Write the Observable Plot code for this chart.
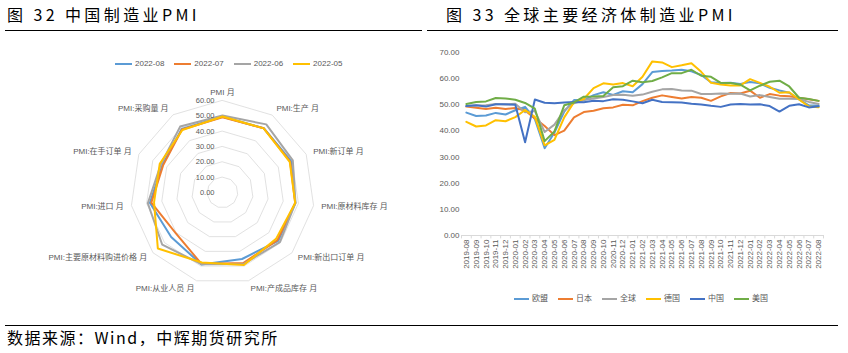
<!DOCTYPE html>
<html><head><meta charset="utf-8">
<script src="https://cdn.jsdelivr.net/npm/d3@7"></script>
<script src="https://cdn.jsdelivr.net/npm/@observablehq/plot@0.6"></script>
<style>
html,body{margin:0;padding:0;background:#fff}
body{width:848px;height:353px;position:relative;overflow:hidden;font-family:"Noto Sans CJK SC",sans-serif}
.title{position:absolute;font-size:16px;line-height:16px;letter-spacing:3.4px;color:#000;white-space:nowrap}
.hr{position:absolute;height:0;border-top:1.5px solid #000}
.leg{position:absolute;font:8px "Liberation Sans",Arial,"Noto Sans CJK SC",sans-serif;color:#595959;display:flex;align-items:center;white-space:nowrap;line-height:10px}
.leg span.it{display:flex;align-items:center}
.sw{display:inline-block;height:0;border-top:2px solid}
#radar,#lines{position:absolute;top:0}
#radar{left:0}#lines{left:424px}
.cap{position:absolute;left:7px;top:329px;font-size:16px;line-height:16px;letter-spacing:1.5px;white-space:nowrap}
</style></head><body>
<div class="title" style="left:7px;top:6px">图 32 中国制造业PMI</div>
<div class="title" style="left:446px;top:6px">图 33 全球主要经济体制造业PMI</div>
<div class="hr" style="left:5px;width:417px;top:30px"></div>
<div class="hr" style="left:427px;width:411px;top:30px"></div>
<div id="radar"></div>
<div id="lines"></div>
<div class="leg" id="legL" style="left:115px;top:59px"></div>
<div class="leg" id="legR" style="left:514px;top:294px"></div>
<div class="hr" style="left:5px;width:833px;top:325px"></div>
<div class="cap">数据来源：Wind，中辉期货研究所</div>
<script>
// ---------- Radar data (China PMI sub-indices) ----------
const radarCats = ["PMI 月","PMI:生产 月","PMI:新订单 月","PMI:原材料库存 月","PMI:新出口订单 月","PMI:产成品库存 月","PMI:从业人员 月","PMI:主要原材料购进价格 月","PMI:进口 月","PMI:在手订单 月","PMI:采购量 月"];
const radarSeries = ["2022-08","2022-07","2022-06","2022-05"];
const pmi202208 = [49.4,49.8,49.2,48.0,48.1,45.2,48.9,44.3,47.8,43.1,49.2];
const pmi202207 = [49.0,49.8,48.5,47.9,47.4,48.0,48.6,40.4,46.9,42.6,48.9];
const pmi202206 = [50.2,52.8,50.4,48.1,49.5,48.6,48.7,52.0,49.2,44.2,51.1];
const pmi202205 = [49.6,49.7,48.2,47.9,46.2,49.3,47.6,55.8,45.1,45.0,48.4];
const radarTicks = [0,10,20,30,40,50,60];
const radarColors = ["#5B9BD5","#ED7D31","#A5A5A5","#FFC000"];

// ---------- Line chart data (global manufacturing PMI) ----------
const months = ["2019-08","2019-09","2019-10","2019-11","2019-12","2020-01","2020-02","2020-03","2020-04","2020-05","2020-06","2020-07","2020-08","2020-09","2020-10","2020-11","2020-12","2021-01","2021-02","2021-03","2021-04","2021-05","2021-06","2021-07","2021-08","2021-09","2021-10","2021-11","2021-12","2022-01","2022-02","2022-03","2022-04","2022-05","2022-06","2022-07","2022-08"];
const globalSeries = ["欧盟","日本","全球","德国","中国","美国"];
const pmiEU = [47.0,45.7,45.9,46.9,46.3,47.9,49.2,44.5,33.4,39.4,47.4,51.8,51.7,53.7,54.8,53.8,55.2,54.8,57.9,62.5,62.9,63.1,63.4,62.8,61.4,58.6,58.3,58.4,58.0,58.7,58.2,56.5,55.5,54.6,52.1,49.8,49.6];
const pmiJapan = [49.3,48.9,48.4,48.9,48.4,48.8,47.8,44.8,41.9,38.4,40.1,45.2,47.2,47.7,48.7,49.0,50.0,49.8,51.4,52.7,53.6,53.0,52.4,53.0,52.7,51.5,53.2,54.5,54.3,55.4,52.7,54.1,53.5,53.3,52.7,52.1,51.5];
const pmiGlobal = [49.5,49.7,49.8,50.3,50.1,50.4,47.1,47.6,39.6,42.4,47.9,50.6,51.8,52.4,53.0,53.7,53.8,53.5,53.9,55.0,55.9,56.0,55.5,55.4,54.1,54.1,54.3,54.2,54.3,53.2,53.7,53.0,52.3,52.3,52.2,51.1,50.3];
const pmiGermany = [43.5,41.7,42.1,44.1,43.7,45.3,48.0,45.4,34.5,36.6,45.2,51.0,52.2,56.4,58.2,57.8,58.3,57.1,60.7,66.6,66.2,64.4,65.1,65.9,62.6,58.4,57.8,57.4,57.4,59.8,58.4,56.9,54.6,54.8,52.0,49.3,49.1];
const pmiChina = [49.5,49.8,49.3,50.2,50.2,50.0,35.7,52.0,50.8,50.6,50.9,51.1,51.0,51.5,51.4,52.1,51.9,51.3,50.6,51.9,51.1,51.0,50.9,50.4,50.1,49.6,49.2,50.1,50.3,50.1,50.2,49.5,47.4,49.6,50.2,49.0,49.4];
const pmiUS = [50.3,51.1,51.3,52.6,52.4,51.9,50.7,48.5,36.1,39.8,49.8,50.9,53.1,53.2,53.4,56.7,57.1,59.2,58.6,59.1,60.5,62.1,62.1,63.4,61.1,60.7,58.4,58.3,57.7,55.5,57.3,58.8,59.2,57.0,52.7,52.2,51.5];
const yTicks = [0,10,20,30,40,50,60,70];
const globalColors = ["#5B9BD5","#ED7D31","#A5A5A5","#FFC000","#4472C4","#70AD47"];

const fmt2 = d3.format(".2f");
const FONT = "'Liberation Sans', Arial, 'Noto Sans CJK SC', sans-serif";

// ---------- Radar ----------
const radarValues = [pmi202208, pmi202207, pmi202206, pmi202205];
const N = radarCats.length;
const ang = k => 2 * Math.PI * k / N;
const radarRows = [];
radarSeries.forEach((s, si) => radarValues[si].forEach((v, k) =>
  radarRows.push({s, k, x: v * Math.sin(ang(k)), y: v * Math.cos(ang(k))})));
const ringRows = radarTicks.filter(t => t > 0).flatMap(t =>
  d3.range(N).map(k => ({t, x: t * Math.sin(ang(k)), y: t * Math.cos(ang(k))})));
const rMax = d3.max(radarTicks);
const labR = rMax + 5;
const labelRows = radarCats.map((c, k) => ({c, k, x: labR * Math.sin(ang(k)), y: labR * Math.cos(ang(k))}));

const radar = Plot.plot({
  width: 424, height: 300,
  marginTop: 0, marginBottom: 0, marginLeft: 0, marginRight: 0,
  x: {domain: [-rMax, rMax], range: [130, 314], axis: null},
  y: {domain: [-rMax, rMax], range: [284, 100], axis: null},
  color: {domain: radarSeries, range: radarColors},
  style: {fontFamily: FONT, background: "transparent", overflow: "visible"},
  marks: [
    Plot.line(ringRows, {x: "x", y: "y", z: "t", curve: "linear-closed", stroke: "#D9D9D9", strokeWidth: 0.8}),
    Plot.line(radarRows, {x: "x", y: "y", z: "s", stroke: "s", curve: "linear-closed", strokeWidth: 2, strokeLinejoin: "round"}),
    Plot.text(radarTicks, {x: 0, y: d => d, text: d => fmt2(d), textAnchor: "end", dx: -8, fontSize: 7.5, fill: "#595959"}),
    Plot.text(labelRows.filter(d => d.k === 0), {x: "x", y: "y", text: "c", textAnchor: "middle", fontSize: 8, fill: "#595959"}),
    Plot.text(labelRows.filter(d => d.k >= 1 && d.k <= 5), {x: "x", y: "y", text: "c", textAnchor: "start", fontSize: 8, fill: "#595959"}),
    Plot.text(labelRows.filter(d => d.k >= 6), {x: "x", y: "y", text: "c", textAnchor: "end", fontSize: 8, fill: "#595959"})
  ]
});
document.getElementById("radar").appendChild(radar);

// ---------- Lines ----------
const seriesVals = [pmiEU, pmiJapan, pmiGlobal, pmiGermany, pmiChina, pmiUS];
const lineRows = [];
globalSeries.forEach((s, si) => seriesVals[si].forEach((v, i) => lineRows.push({s, i, v})));

const lines = Plot.plot({
  width: 424, height: 300,
  marginTop: 52, marginBottom: 65, marginLeft: 37, marginRight: 25,
  x: {type: "linear", domain: [-0.5, months.length - 0.5], label: null, axis: null},
  y: {domain: [0, 70], label: null, axis: null},
  color: {domain: globalSeries, range: globalColors},
  style: {fontFamily: FONT, color: "#595959", background: "transparent", overflow: "visible"},
  marks: [
    Plot.ruleY([0], {stroke: "#D9D9D9", strokeWidth: 1}),
    Plot.ruleX(d3.range(-0.5, months.length), {y1: 0, y2: -1.3, stroke: "#D9D9D9", strokeWidth: 1}),
    Plot.axisY({ticks: yTicks, tickFormat: d => fmt2(d), tickSize: 0, tickPadding: 2, fontSize: 8, label: null}),
    Plot.axisX({ticks: d3.range(months.length), tickFormat: i => months[i], tickRotate: -90, tickSize: 0, tickPadding: 4, fontSize: 8, label: null}),
    Plot.line(lineRows, {x: "i", y: "v", z: "s", stroke: "s", strokeWidth: 2, strokeLinejoin: "round"})
  ]
});
document.getElementById("lines").appendChild(lines);

// ---------- Legends ----------
function legend(el, names, colors, swW, gap) {
  names.forEach((n, i) => {
    const it = document.createElement("span");
    it.className = "it";
    it.style.marginRight = gap + "px";
    const sw = document.createElement("span");
    sw.className = "sw";
    sw.style.width = swW + "px";
    sw.style.borderTopColor = colors[i];
    sw.style.marginRight = "3px";
    it.appendChild(sw);
    it.appendChild(document.createTextNode(n));
    el.appendChild(it);
  });
}
legend(document.getElementById("legL"), radarSeries, radarColors, 17, 10);
legend(document.getElementById("legR"), globalSeries, globalColors, 15, 10);
</script>
</body></html>
